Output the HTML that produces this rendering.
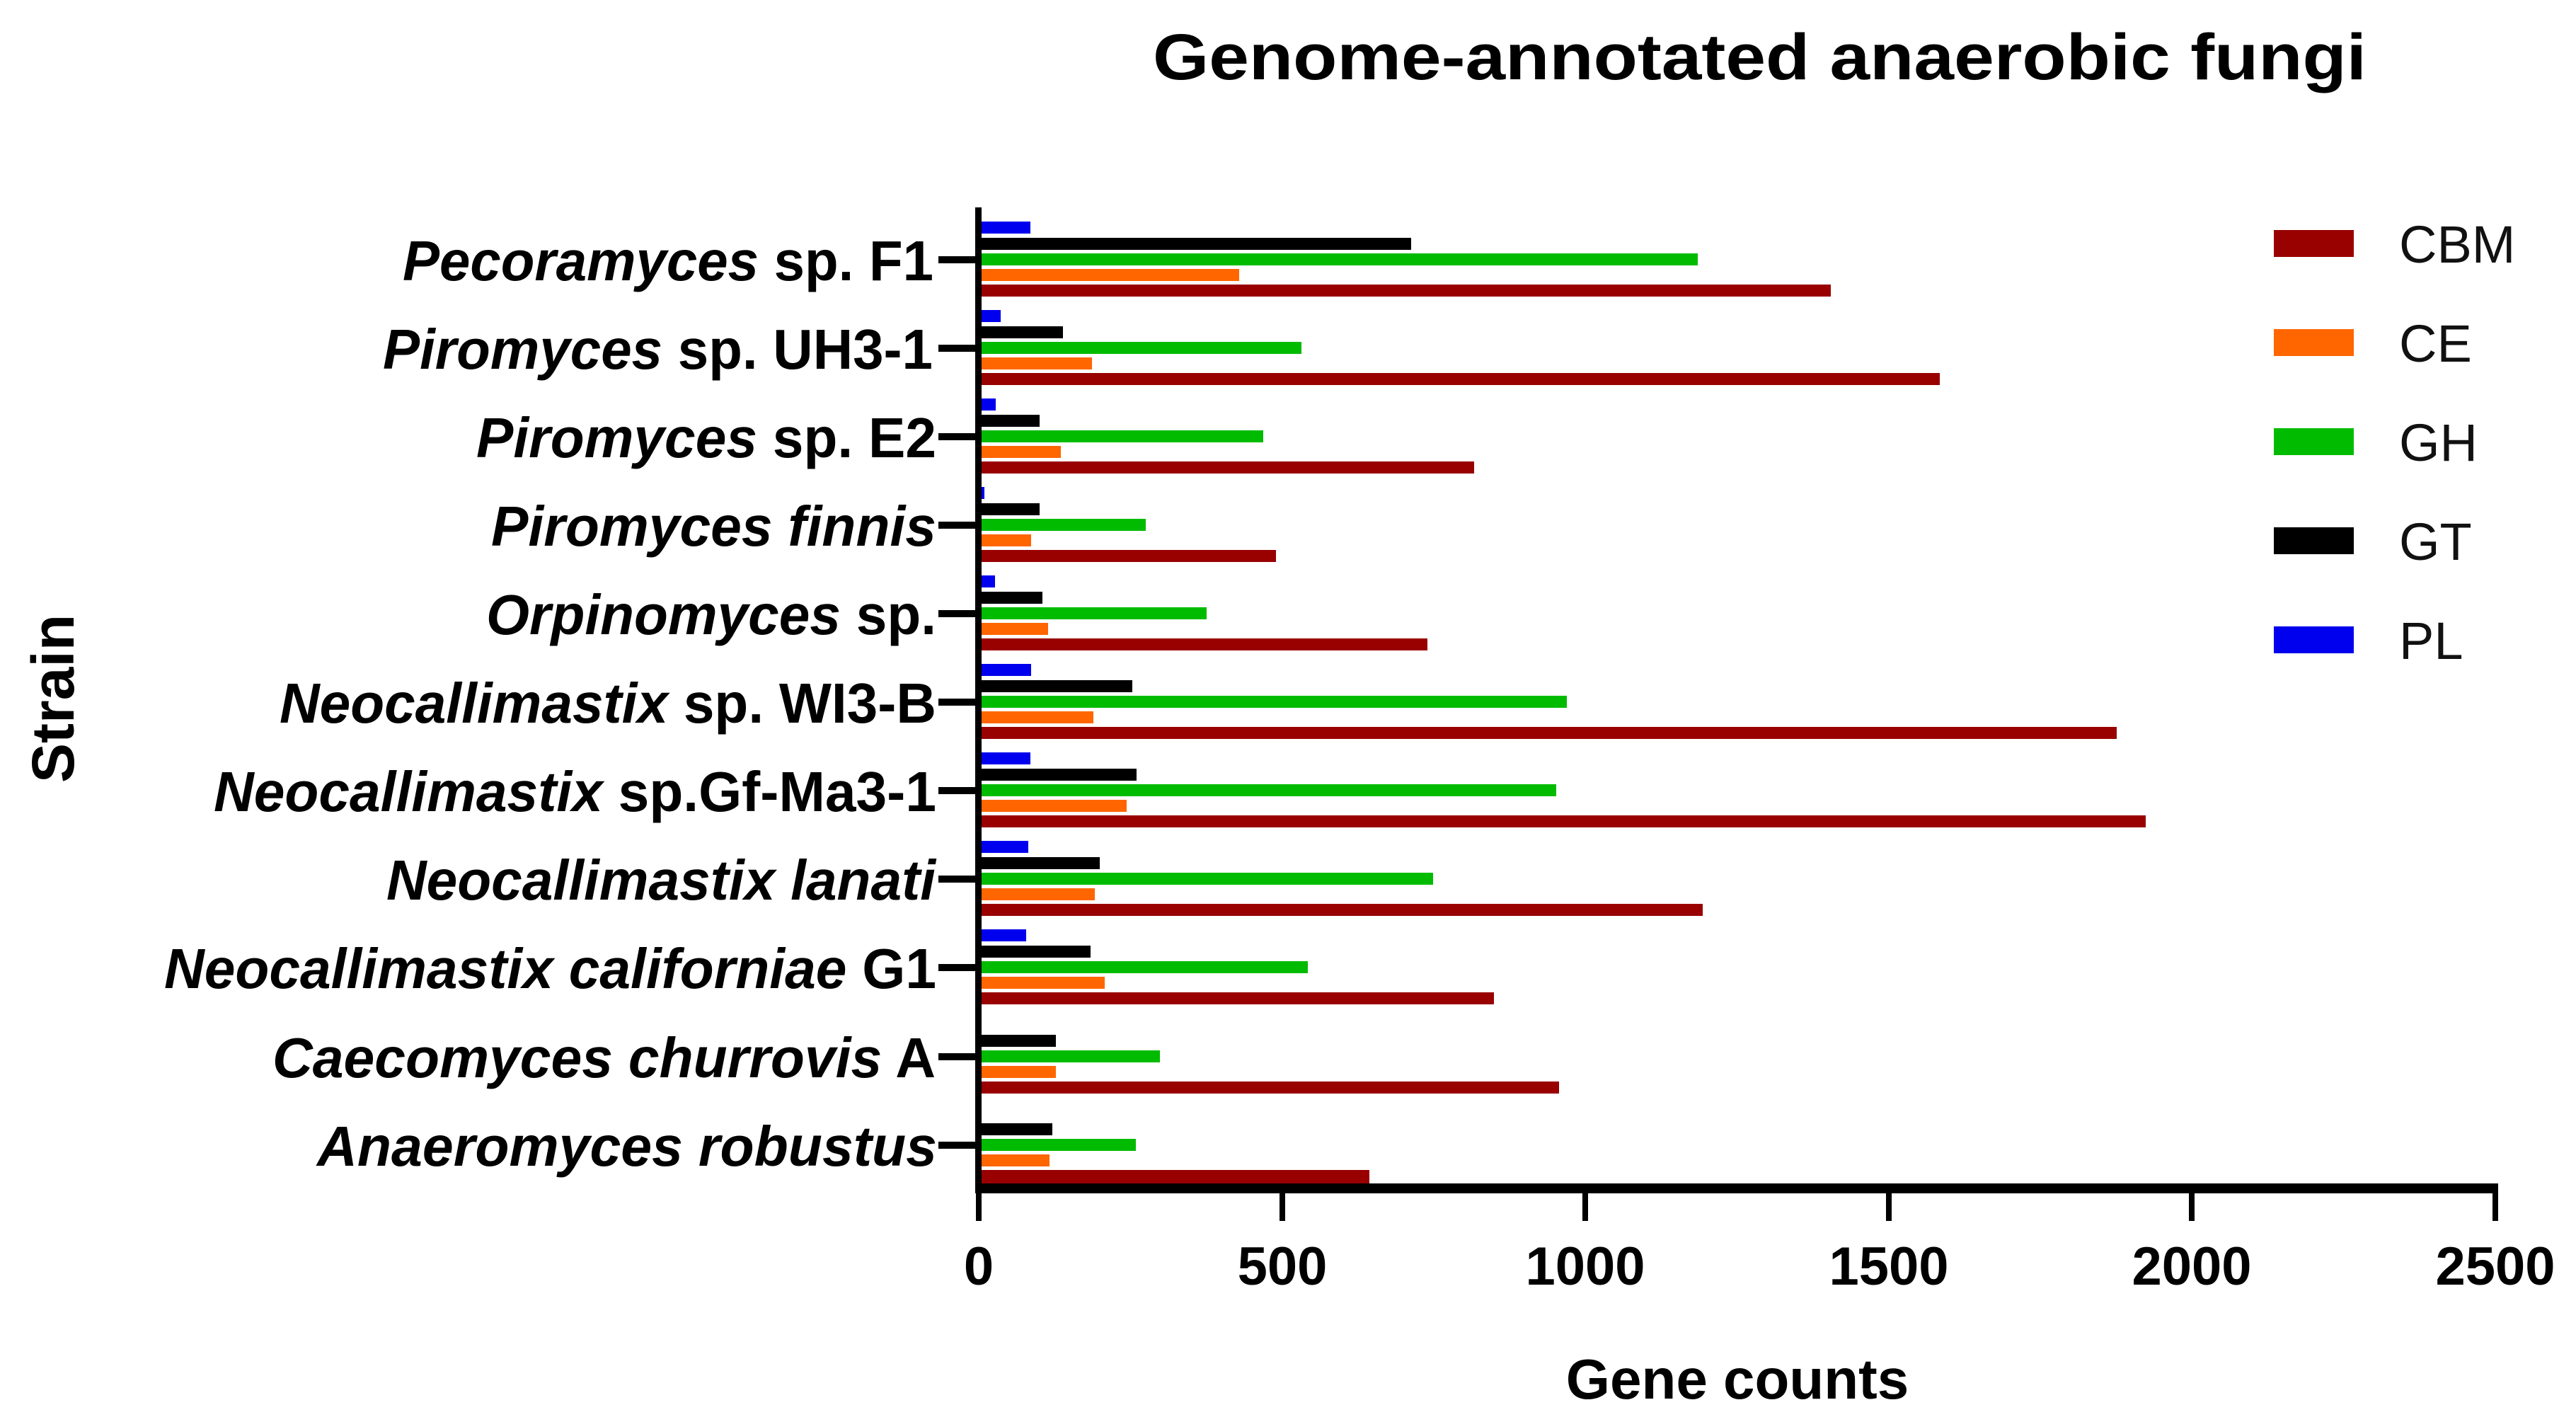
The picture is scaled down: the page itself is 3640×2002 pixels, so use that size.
<!DOCTYPE html>
<html><head><meta charset="utf-8"><style>html,body{margin:0;padding:0;background:#fff}svg{display:block}</style></head>
<body>
<svg width="3640" height="2002" viewBox="0 0 3640 2002" xmlns="http://www.w3.org/2000/svg" font-family="'Liberation Sans', Arial, sans-serif">
<rect width="3640" height="2002" fill="#fff"/>
<text x="1629" y="112" font-size="92" font-weight="bold" textLength="1715" lengthAdjust="spacingAndGlyphs">Genome-annotated anaerobic fungi</text>

<!-- bars -->
<g id="bars">
<!-- F1 tick 367 -->
<rect x="1386" y="313" width="70" height="17" fill="#0000ee"/>
<rect x="1386" y="336" width="608" height="17" fill="#000"/>
<rect x="1386" y="358" width="1013" height="17" fill="#00bb00"/>
<rect x="1386" y="380" width="365" height="17" fill="#ff6600"/>
<rect x="1386" y="402" width="1201" height="17" fill="#990000"/>
<!-- UH3-1 tick 492 -->
<rect x="1386" y="438" width="28" height="17" fill="#0000ee"/>
<rect x="1386" y="461" width="116" height="17" fill="#000"/>
<rect x="1386" y="483" width="453" height="17" fill="#00bb00"/>
<rect x="1386" y="505" width="157" height="17" fill="#ff6600"/>
<rect x="1386" y="527" width="1355" height="17" fill="#990000"/>
<!-- E2 tick 617 -->
<rect x="1386" y="563" width="21" height="17" fill="#0000ee"/>
<rect x="1386" y="586" width="83" height="17" fill="#000"/>
<rect x="1386" y="608" width="399" height="17" fill="#00bb00"/>
<rect x="1386" y="630" width="113" height="17" fill="#ff6600"/>
<rect x="1386" y="652" width="697" height="17" fill="#990000"/>
<!-- finnis tick 742 -->
<rect x="1386" y="688" width="5" height="17" fill="#0000ee"/>
<rect x="1386" y="711" width="83" height="17" fill="#000"/>
<rect x="1386" y="733" width="233" height="17" fill="#00bb00"/>
<rect x="1386" y="755" width="71" height="17" fill="#ff6600"/>
<rect x="1386" y="777" width="417" height="17" fill="#990000"/>
<!-- Orpinomyces tick 867 -->
<rect x="1386" y="813" width="20" height="17" fill="#0000ee"/>
<rect x="1386" y="836" width="87" height="17" fill="#000"/>
<rect x="1386" y="858" width="319" height="17" fill="#00bb00"/>
<rect x="1386" y="880" width="95" height="17" fill="#ff6600"/>
<rect x="1386" y="902" width="631" height="17" fill="#990000"/>
<!-- WI3-B tick 992 -->
<rect x="1386" y="938" width="71" height="17" fill="#0000ee"/>
<rect x="1386" y="961" width="214" height="17" fill="#000"/>
<rect x="1386" y="983" width="828" height="17" fill="#00bb00"/>
<rect x="1386" y="1005" width="159" height="17" fill="#ff6600"/>
<rect x="1386" y="1027" width="1605" height="17" fill="#990000"/>
<!-- Gf-Ma3-1 tick 1117 -->
<rect x="1386" y="1063" width="70" height="17" fill="#0000ee"/>
<rect x="1386" y="1086" width="220" height="17" fill="#000"/>
<rect x="1386" y="1108" width="813" height="17" fill="#00bb00"/>
<rect x="1386" y="1130" width="206" height="17" fill="#ff6600"/>
<rect x="1386" y="1152" width="1646" height="17" fill="#990000"/>
<!-- lanati tick 1242 -->
<rect x="1386" y="1188" width="67" height="17" fill="#0000ee"/>
<rect x="1386" y="1211" width="168" height="17" fill="#000"/>
<rect x="1386" y="1233" width="639" height="17" fill="#00bb00"/>
<rect x="1386" y="1255" width="161" height="17" fill="#ff6600"/>
<rect x="1386" y="1277" width="1020" height="17" fill="#990000"/>
<!-- californiae tick 1367 -->
<rect x="1386" y="1313" width="64" height="17" fill="#0000ee"/>
<rect x="1386" y="1336" width="155" height="17" fill="#000"/>
<rect x="1386" y="1358" width="462" height="17" fill="#00bb00"/>
<rect x="1386" y="1380" width="175" height="17" fill="#ff6600"/>
<rect x="1386" y="1402" width="725" height="17" fill="#990000"/>
<!-- churrovis tick 1493 -->
<rect x="1386" y="1462" width="106" height="17" fill="#000"/>
<rect x="1386" y="1484" width="253" height="17" fill="#00bb00"/>
<rect x="1386" y="1506" width="106" height="17" fill="#ff6600"/>
<rect x="1386" y="1528" width="817" height="17" fill="#990000"/>
<!-- robustus tick 1618 -->
<rect x="1386" y="1587" width="101" height="17" fill="#000"/>
<rect x="1386" y="1609" width="219" height="17" fill="#00bb00"/>
<rect x="1386" y="1631" width="97" height="17" fill="#ff6600"/>
<rect x="1386" y="1653" width="549" height="19" fill="#990000"/>
</g>

<!-- axes -->
<rect x="1378" y="293" width="9" height="1393" fill="#000"/>
<rect x="1378" y="1672" width="2152" height="14" fill="#000"/>
<g fill="#000">
<rect x="1379" y="1680" width="8" height="45"/>
<rect x="1808" y="1680" width="8" height="45"/>
<rect x="2236" y="1680" width="8" height="45"/>
<rect x="2665" y="1680" width="8" height="45"/>
<rect x="3093" y="1680" width="8" height="45"/>
<rect x="3522" y="1680" width="8" height="45"/>
</g>
<!-- y ticks -->
<g fill="#000">
<rect x="1326" y="362" width="56" height="10"/>
<rect x="1326" y="487" width="56" height="10"/>
<rect x="1326" y="612" width="56" height="10"/>
<rect x="1326" y="737" width="56" height="10"/>
<rect x="1326" y="862" width="56" height="10"/>
<rect x="1326" y="987" width="56" height="10"/>
<rect x="1326" y="1112" width="56" height="10"/>
<rect x="1326" y="1237" width="56" height="10"/>
<rect x="1326" y="1362" width="56" height="10"/>
<rect x="1326" y="1488" width="56" height="10"/>
<rect x="1326" y="1613" width="56" height="10"/>
</g>

<!-- x tick labels -->
<g font-size="76" font-weight="bold" text-anchor="middle">
<text x="1383" y="1815">0</text>
<text x="1812" y="1815">500</text>
<text x="2240" y="1815">1000</text>
<text x="2669" y="1815">1500</text>
<text x="3097" y="1815">2000</text>
<text x="3526" y="1815">2500</text>
</g>
<text x="2455" y="1976" font-size="80" font-weight="bold" text-anchor="middle">Gene counts</text>
<text transform="translate(104,987) rotate(-90)" font-size="84" font-weight="bold" text-anchor="middle">Strain</text>

<!-- y labels -->
<g font-size="80" font-weight="bold">
<text x="569" y="396" textLength="750" lengthAdjust="spacingAndGlyphs"><tspan font-style="italic">Pecoramyces</tspan> sp. F1</text>
<text x="541" y="521" textLength="777" lengthAdjust="spacingAndGlyphs"><tspan font-style="italic">Piromyces</tspan> sp. UH3-1</text>
<text x="673" y="646" textLength="650" lengthAdjust="spacingAndGlyphs"><tspan font-style="italic">Piromyces</tspan> sp. E2</text>
<text x="694" y="771" textLength="629" lengthAdjust="spacingAndGlyphs" font-style="italic">Piromyces finnis</text>
<text x="687" y="896" textLength="636" lengthAdjust="spacingAndGlyphs"><tspan font-style="italic">Orpinomyces</tspan> sp.</text>
<text x="395" y="1021" textLength="928" lengthAdjust="spacingAndGlyphs"><tspan font-style="italic">Neocallimastix</tspan> sp. WI3-B</text>
<text x="302" y="1146" textLength="1021" lengthAdjust="spacingAndGlyphs"><tspan font-style="italic">Neocallimastix</tspan> sp.Gf-Ma3-1</text>
<text x="546" y="1271" textLength="776" lengthAdjust="spacingAndGlyphs" font-style="italic">Neocallimastix lanati</text>
<text x="232" y="1396" textLength="1091" lengthAdjust="spacingAndGlyphs"><tspan font-style="italic">Neocallimastix californiae</tspan> G1</text>
<text x="385" y="1522" textLength="937" lengthAdjust="spacingAndGlyphs"><tspan font-style="italic">Caecomyces churrovis</tspan> A</text>
<text x="448" y="1647" textLength="876" lengthAdjust="spacingAndGlyphs" font-style="italic">Anaeromyces robustus</text>
</g>

<!-- legend -->
<rect x="3213" y="325" width="113" height="38" fill="#990000"/>
<rect x="3213" y="465" width="113" height="38" fill="#ff6600"/>
<rect x="3213" y="605" width="113" height="38" fill="#00bb00"/>
<rect x="3213" y="745" width="113" height="38" fill="#000"/>
<rect x="3213" y="885" width="113" height="38" fill="#0000ee"/>
<g font-size="74" fill="#111">
<text x="3390" y="371">CBM</text>
<text x="3390" y="511">CE</text>
<text x="3390" y="651">GH</text>
<text x="3390" y="791">GT</text>
<text x="3390" y="931">PL</text>
</g>
</svg>
</body></html>
